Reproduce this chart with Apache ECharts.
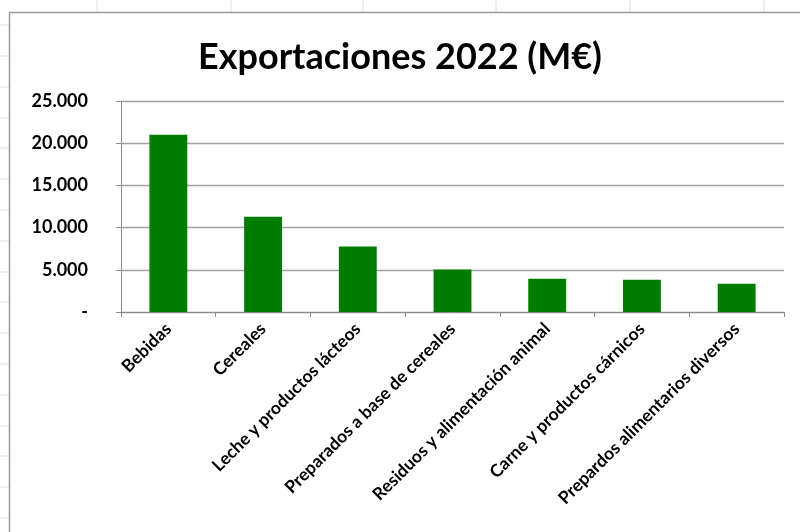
<!DOCTYPE html>
<html>
<head>
<meta charset="utf-8">
<script src="https://cdn.jsdelivr.net/npm/echarts@6/dist/echarts.min.js"></script>
<style>
  html, body { margin: 0; padding: 0; background: #ffffff; }
  #chart { width: 800px; height: 532px; }
</style>
</head>
<body>
<div id="chart"></div>
<script>
const titleText = 'Exportaciones 2022 (M€)';
const categories = [
  'Bebidas',
  'Cereales',
  'Leche y productos lácteos',
  'Preparados a base de cereales',
  'Residuos y alimentación animal',
  'Carne y productos cárnicos',
  'Prepardos alimentarios diversos'
];
const values = [21000, 11300, 7750, 5050, 3930, 3810, 3350];
const yMin = 0, yMax = 25000, yStep = 5000;

function fmtThousands(v) {
  if (v === 0) return '-';
  return String(v).replace(/\B(?=(\d{3})+(?!\d))/g, '.');
}

// faint spreadsheet cell grid stubs outside the chart frame
const sheetLines = [];
[97, 231, 363, 496, 630, 764].forEach(function (x) {
  sheetLines.push({ type: 'line', shape: { x1: x, y1: 0, x2: x, y2: 12 }, style: { stroke: '#e0e0e0', lineWidth: 1 } });
});
[25, 56, 87, 118, 148, 179, 210, 241, 272, 302, 333, 364, 395, 426, 456, 487, 518].forEach(function (y) {
  sheetLines.push({ type: 'line', shape: { x1: 0, y1: y, x2: 9, y2: y }, style: { stroke: '#e0e0e0', lineWidth: 1 } });
});

const chart = echarts.init(document.getElementById('chart'));
chart.setOption({
  animation: false,
  backgroundColor: '#ffffff',
  graphic: sheetLines.concat([
    { type: 'polyline', shape: { points: [[9.5, 532], [9.5, 12.5], [800, 12.5]] },
      style: { stroke: '#9a9a9a', lineWidth: 1.5, fill: null } }
  ]),
  title: {
    text: titleText,
    left: 'center',
    top: 34,
    textStyle: { fontFamily: 'Lato', fontWeight: 'bold', fontSize: 36, color: '#000000' }
  },
  grid: { left: 121, right: 16, top: 101, bottom: 220, containLabel: false },
  xAxis: {
    type: 'category',
    data: categories,
    axisLine: { show: true, lineStyle: { color: '#8c8c8c', width: 1 } },
    axisTick: { show: true, length: 5, lineStyle: { color: '#8c8c8c' } },
    axisLabel: {
      interval: 0, rotate: 45, margin: 14,
      fontFamily: 'Lato', fontWeight: 'bold', fontSize: 17.5, color: '#000000'
    }
  },
  yAxis: {
    type: 'value',
    min: yMin, max: yMax, interval: yStep,
    axisLine: { show: true, lineStyle: { color: '#8c8c8c', width: 1 } },
    axisTick: { show: true, length: 5, lineStyle: { color: '#8c8c8c' } },
    splitLine: { show: true, lineStyle: { color: '#a0a0a0', width: 1.3 } },
    axisLabel: {
      margin: 33, formatter: fmtThousands,
      fontFamily: 'Lato', fontWeight: 'bold', fontSize: 18, color: '#000000'
    }
  },
  series: [{
    type: 'bar',
    data: values,
    barWidth: '40%',
    itemStyle: { color: '#007d00' }
  }]
});
</script>
</body>
</html>
